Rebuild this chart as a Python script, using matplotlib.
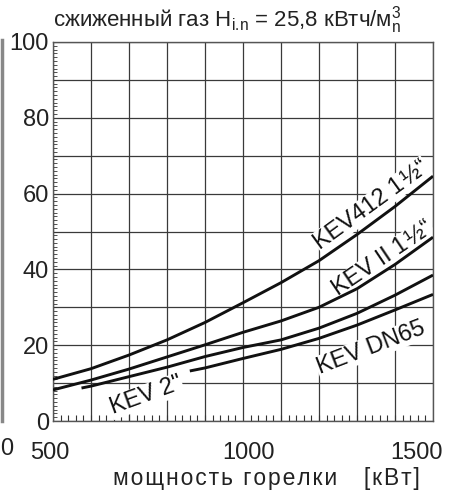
import numpy as np
import matplotlib
matplotlib.use("Agg")
from matplotlib import pyplot as plt
from matplotlib.ticker import MultipleLocator, FixedLocator
import matplotlib.transforms as mtransforms

plt.rcParams['font.family'] = ['Liberation Sans', 'DejaVu Sans']
plt.rcParams['mathtext.fontset'] = 'custom'
plt.rcParams['mathtext.rm'] = 'Liberation Sans'
plt.rcParams['mathtext.it'] = 'Liberation Sans'

# мощность горелки, кВт
power = [500, 600, 700, 800, 900, 1000, 1100, 1200, 1300, 1400, 1500]
kev412 = [11.0, 13.8, 17.4, 21.4, 26.0, 31.2, 36.5, 42.3, 49.2, 56.6, 64.6]
kev2 = [8.2, 10.8, 13.7, 16.9, 20.1, 23.4, 26.4, 30.0, 34.9, 41.3, 48.5]

power3 = [575, 600, 700, 800, 900, 1000, 1100, 1200, 1300, 1400, 1500]
kev3 = [8.7, 9.2, 11.7, 14.2, 17.0, 19.4, 21.4, 24.5, 28.4, 33.2, 38.5]

power4 = [860, 900, 1000, 1100, 1200, 1300, 1400, 1500]
kev4 = [13.2, 14.0, 16.5, 18.9, 21.8, 25.3, 29.3, 33.4]

labels = ["KEV412 1\u200a\u00bd\u201c", "KEV II 1\u200a\u00bd\u201c", "KEV DN65", "KEV 2\""]
label_pos = [(1338, 57.0), (1368, 42.8), (1336, 19.3), (745, 6.6)]
label_rot = [36, 34, 21, 20]

xticks = [500, 1000, 1500]
yticks = [0, 20, 40, 60, 80, 100]

fig = plt.figure(figsize=(4.54, 4.93), dpi=100)
ax = fig.add_axes([53/454, 1-421/493, 380/454, 379/493])

ax.set_xlim(500, 1500)
ax.set_ylim(0, 100)

ax.xaxis.set_major_locator(FixedLocator(xticks))
ax.yaxis.set_major_locator(FixedLocator(yticks))
ax.xaxis.set_minor_locator(MultipleLocator(20))
ax.yaxis.set_minor_locator(MultipleLocator(1))

# grid every 100 kW / 10 units
for gx in range(500, 1501, 100):
    ax.axvline(gx, color='#3a3a3a', lw=0.9, zorder=0.5)
for gy in range(0, 101, 10):
    ax.axhline(gy, color='#3a3a3a', lw=0.9, zorder=0.5)

for xs, ys in [(power, kev412), (power, kev2), (power3, kev3), (power4, kev4)]:
    ax.plot(xs, ys, color='#111111', lw=2.1, zorder=3, solid_capstyle='butt')

for txt, (lx, ly), rot in zip(labels, label_pos, label_rot):
    ax.text(lx, ly, txt, rotation=rot, ha='center', va='center', fontsize=17,
            color='#111111', zorder=2, rotation_mode='anchor',
            bbox=dict(facecolor='white', edgecolor='none', pad=0.5))

ax.tick_params(axis='both', which='major', direction='in', length=0,
               labelsize=17, colors='#222222', pad=3)
ax.tick_params(axis='x', which='minor', direction='in', length=4, width=0.8,
               colors='#333333', top=False)
ax.tick_params(axis='y', which='minor', direction='in', length=3, width=0.6,
               colors='#333333', right=False)
ax.tick_params(axis='x', pad=15)
ax.set_xticklabels([str(v) for v in xticks])
ax.set_yticklabels([str(v) for v in yticks])

# shift x tick labels like in the original
shifts = [-3, 6, -17]
for lab, dx in zip(ax.get_xticklabels(), shifts):
    lab.set_transform(lab.get_transform() +
                      mtransforms.ScaledTranslation(dx/100, 0, fig.dpi_scale_trans))

for s in ax.spines.values():
    s.set_color('#555555')
    s.set_linewidth(1.0)

fig.text(53/454, 1-27/493, "сжиженный газ H$_{\\rm i.\\!n}$ = 25,8 кВтч/м$^3_{\\rm n}$",
         fontsize=16, ha='left', va='baseline', color='#222222')

xl = "мощность горелки   [кВт]"
xl = "\u200a".join(xl)
fig.text(266/454, 1-478/493, xl, fontsize=16.5, ha='center', va='center', color='#222222')

# edge of the neighbouring chart on the left
fig.add_artist(plt.Line2D([1.5/454, 1.5/454], [1-421/493, 1-40/493],
                          color='#888888', lw=2.5, transform=fig.transFigure))
fig.text(0, 1-449/493, "0", fontsize=17, ha='left', va='center', color='#222222')

fig.savefig("out.png", dpi=100)
